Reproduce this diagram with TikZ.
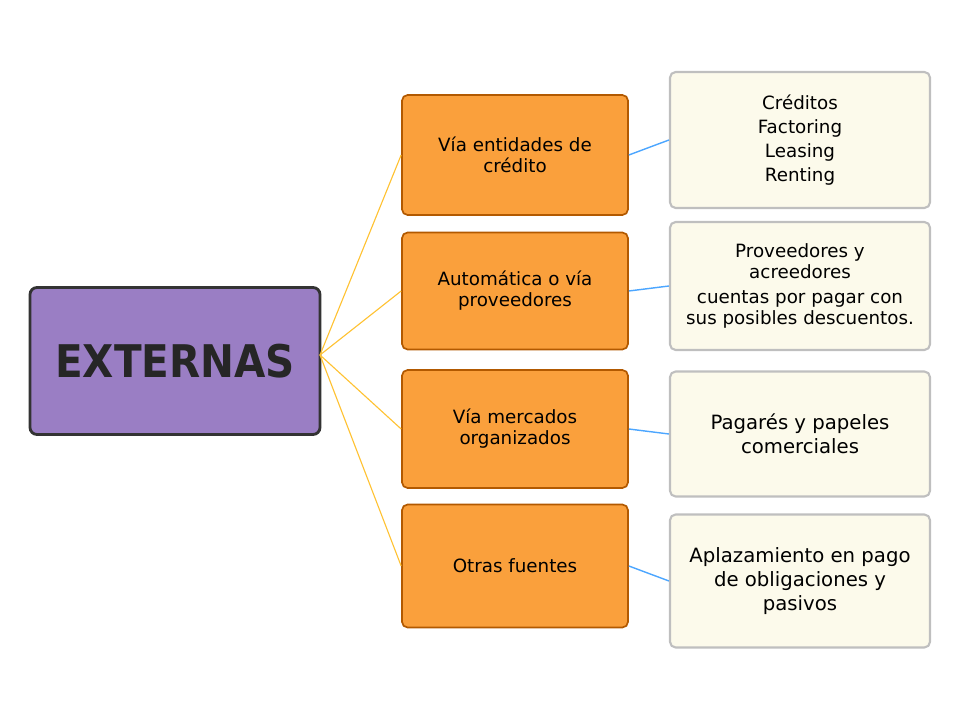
\documentclass[tikz,border=0pt]{standalone}
\usepackage{fontspec}
\setmainfont{DejaVu Sans}
\newfontfamily\condfont{DejaVu Sans Condensed}
\definecolor{extfill}{RGB}{154,126,196}
\definecolor{orfill}{RGB}{250,160,60}
\definecolor{crfill}{RGB}{252,250,235}
\begin{document}
\begin{tikzpicture}[x=0.025cm,y=-0.025cm,
 ob/.style={draw=orange!70!black,line width=1.2pt,fill=orfill,rounded corners=4pt,minimum width=226*0.025cm,align=center,font=\fontsize{13}{15}\selectfont},
 cb/.style={draw=gray!50,line width=1.5pt,fill=crfill,rounded corners=4pt,minimum width=260*0.025cm,align=center,font=\fontsize{14}{17}\selectfont},
 ol/.style={draw=orange!60!yellow!80,line width=0.8pt},
 bl/.style={draw=blue!50!cyan!70,line width=1pt}]
\useasboundingbox (0,0) rectangle (960,720);
\node[draw=black!80,line width=2pt,fill=extfill,rounded corners=5pt,minimum width=290*0.025cm,minimum height=147*0.025cm,font=\fontsize{32}{36}\selectfont\condfont\bfseries,text=black!85] (ext) at (175,361) {EXTERNAS};
\node[ob,minimum height=120*0.025cm] (o1) at (515,155) {Vía entidades de\\crédito};
\node[ob,minimum height=117*0.025cm] (o2) at (515,291) {Automática o vía\\proveedores};
\node[ob,minimum height=118*0.025cm] (o3) at (515,429) {Vía mercados\\organizados};
\node[ob,minimum height=123*0.025cm] (o4) at (515,566) {Otras fuentes};
\node[cb,minimum height=136*0.025cm,font=\fontsize{13}{15}\selectfont] (c1) at (800,140) {Créditos\\[2pt]Factoring\\[2pt]Leasing\\[2pt]Renting};
\node[cb,minimum height=128*0.025cm,font=\fontsize{13}{15}\selectfont] (c2) at (800,286) {Proveedores y\\acreedores\\[3pt]cuentas por pagar con\\sus posibles descuentos.};
\node[cb,minimum height=125*0.025cm] (c3) at (800,434) {Pagarés y papeles\\comerciales};
\node[cb,minimum height=133*0.025cm] (c4) at (800,581) {Aplazamiento en pago\\de obligaciones y\\pasivos};
\coordinate (s) at (320,355);
\foreach \i in {1,2,3,4}{\draw[ol] (s) -- (o\i.west); \draw[bl] (o\i.east) -- (c\i.west);}
\end{tikzpicture}
\end{document}
